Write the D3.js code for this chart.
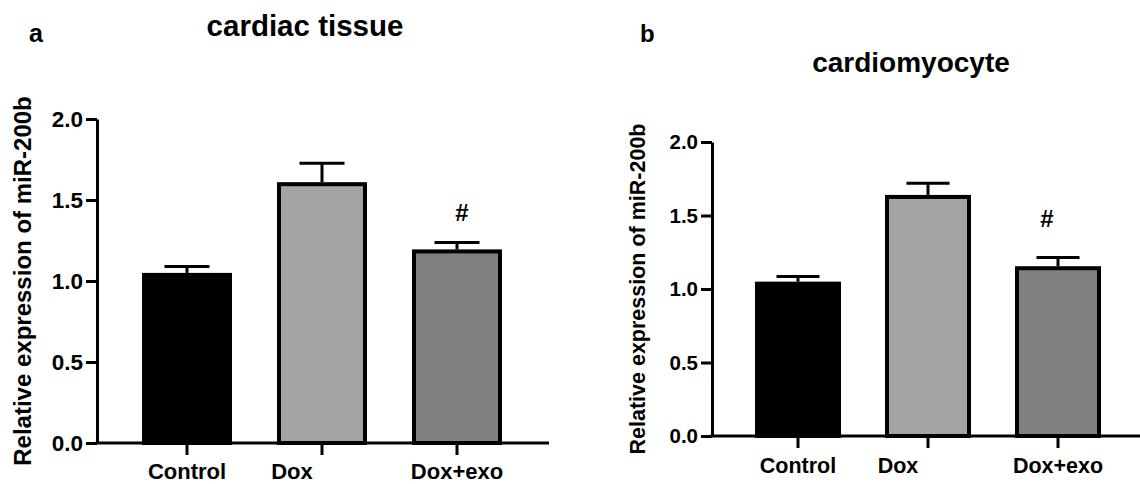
<!DOCTYPE html>
<html>
<head>
<meta charset="utf-8">
<script src="https://cdn.jsdelivr.net/npm/d3@7"></script>
<style>
	body { margin: 0; background: #fff; }
	svg text { font-family: "Liberation Sans", Arial, sans-serif; font-weight: bold; fill: #000; }
</style>
</head>
<body>
<div id="chart"></div>
<script>
var categories = ["Control", "Dox", "Dox+exo"];
var tissueMeans = [1.05, 1.61, 1.195];
var tissueErrors = [0.04, 0.117, 0.043];
var cellMeans = [1.05, 1.64, 1.155];
var cellErrors = [0.035, 0.08, 0.06];
var yTicks = [0, 0.5, 1.0, 1.5, 2.0];
var barFills = ["#000000", "#a3a3a3", "#808080"];
var marks = ["", "", "#"];

var svg = d3.select("#chart")
	.append("svg")
	.attr("width", 1140)
	.attr("height", 484);

// panel a
drawPanel({
	letter: "a", letterX: 29, letterY: 42, letterSize: 25,
	title: "cardiac tissue", titleX: 305, titleY: 36, titleSize: 29.5,
	axisX: 97, top: 119, bottom: 443, xRange: [119.5, 524.5], axisEnd: 549,
	pad: 1 / 3, tickLabelSize: 22.5, xLabelSize: 22, xLabelPad: 8, yTitleSize: 24,
	yTitleX: 31, markGap: 21, markDx: 5, markSize: 24,
	means: tissueMeans, errors: tissueErrors
});

// panel b
drawPanel({
	letter: "b", letterX: 640, letterY: 42, letterSize: 24,
	title: "cardiomyocyte", titleX: 911, titleY: 72, titleSize: 28,
	axisX: 712, top: 142, bottom: 436, xRange: [733, 1123], axisEnd: 1140,
	pad: 44 / 130, tickLabelSize: 20.5, xLabelSize: 21.5, xLabelPad: 10, yTitleSize: 21.5,
	yTitleX: 645, markGap: 30, markDx: -11, markSize: 24,
	means: cellMeans, errors: cellErrors
});

function drawPanel(p) {
	var g = svg.append("g");

	var x = d3.scaleBand()
		.domain(categories)
		.range(p.xRange)
		.paddingInner(p.pad)
		.paddingOuter(p.pad / 2);

	var y = d3.scaleLinear()
		.domain([0, 2])
		.range([p.bottom, p.top]);

	var rows = categories.map(function(c, i) {
		return { name: c, mean: p.means[i], err: p.errors[i], fill: barFills[i], mark: marks[i] };
	});

	// error bars (drawn under the bars so the stem starts at the bar top)
	var eb = g.selectAll("g.err").data(rows).enter().append("g").attr("class", "err");
	eb.append("line")
		.attr("x1", function(d) { return x(d.name) + x.bandwidth() / 2; })
		.attr("x2", function(d) { return x(d.name) + x.bandwidth() / 2; })
		.attr("y1", function(d) { return y(d.mean); })
		.attr("y2", function(d) { return y(d.mean + d.err); })
		.attr("stroke", "#000").attr("stroke-width", 3);
	eb.append("line")
		.attr("x1", function(d) { return x(d.name) + x.bandwidth() / 4; })
		.attr("x2", function(d) { return x(d.name) + x.bandwidth() * 3 / 4; })
		.attr("y1", function(d) { return y(d.mean + d.err); })
		.attr("y2", function(d) { return y(d.mean + d.err); })
		.attr("stroke", "#000").attr("stroke-width", 3);

	// bars
	g.selectAll("rect.bar").data(rows).enter().append("rect")
		.attr("class", "bar")
		.attr("x", function(d) { return x(d.name) + 2; })
		.attr("width", x.bandwidth() - 4)
		.attr("y", function(d) { return y(d.mean) + 2; })
		.attr("height", function(d) { return y(0) - y(d.mean) - 2; })
		.attr("fill", function(d) { return d.fill; })
		.attr("stroke", "#000")
		.attr("stroke-width", 4);

	// significance marks
	g.selectAll("text.mark").data(rows).enter().append("text")
		.attr("class", "mark")
		.attr("x", function(d) { return x(d.name) + x.bandwidth() / 2 + p.markDx; })
		.attr("y", function(d) { return y(d.mean + d.err) - p.markGap; })
		.attr("text-anchor", "middle")
		.style("font-size", p.markSize + "px")
		.text(function(d) { return d.mark; });

	// y axis
	var yAxis = g.append("g")
		.attr("transform", "translate(" + p.axisX + ",0)")
		.call(d3.axisLeft(y).tickValues(yTicks).tickFormat(d3.format(".1f"))
			.tickSize(11).tickSizeOuter(0).tickPadding(3));
	yAxis.selectAll("path, line").attr("stroke", "#000").attr("stroke-width", 3);
	yAxis.selectAll("text").style("font-size", p.tickLabelSize + "px")
		.style("font-family", "'Liberation Sans', Arial, sans-serif");

	// x axis
	var xAxis = g.append("g")
		.attr("transform", "translate(0," + p.bottom + ")")
		.call(d3.axisBottom(x).tickSize(12).tickPadding(p.xLabelPad));
	xAxis.select(".domain").remove();
	xAxis.append("line")
		.attr("x1", p.axisX - 1.5).attr("x2", p.axisEnd)
		.attr("y1", 0).attr("y2", 0);
	xAxis.selectAll("line").attr("stroke", "#000").attr("stroke-width", 3);
	xAxis.selectAll("text").style("font-size", p.xLabelSize + "px")
		.style("font-family", "'Liberation Sans', Arial, sans-serif")
		.attr("dx", function(d) { return d === "Dox" ? -30 : 0; });

	// y title
	g.append("text")
		.attr("transform", "translate(" + p.yTitleX + "," + (p.top + p.bottom) / 2 + ") rotate(-90)")
		.attr("text-anchor", "middle")
		.style("font-size", p.yTitleSize + "px")
		.text("Relative expression of miR-200b");

	// title and panel letter
	g.append("text")
		.attr("x", p.titleX).attr("y", p.titleY)
		.attr("text-anchor", "middle")
		.style("font-size", p.titleSize + "px")
		.text(p.title);

	g.append("text")
		.attr("x", p.letterX).attr("y", p.letterY)
		.style("font-size", p.letterSize + "px")
		.text(p.letter);
}
</script>
</body>
</html>
